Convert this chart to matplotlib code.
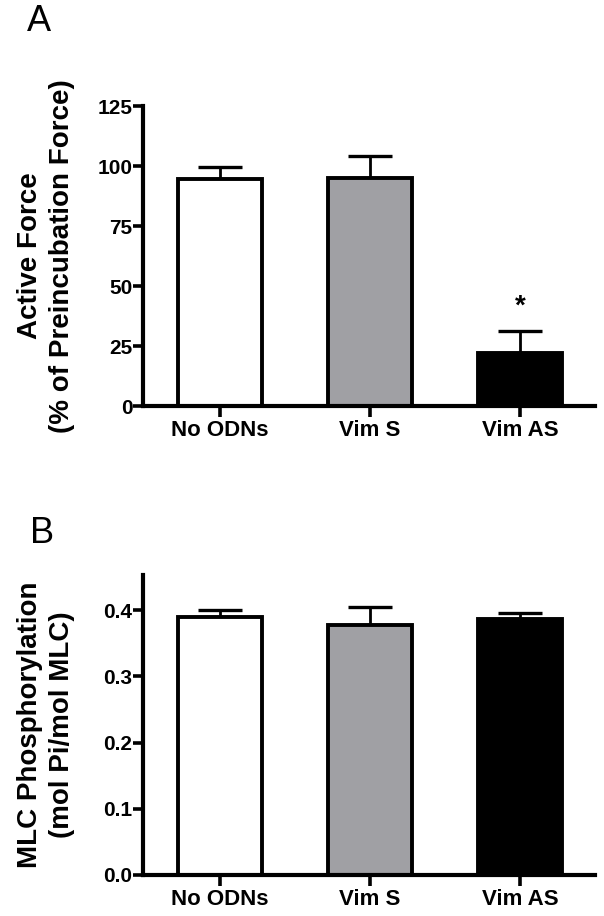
import matplotlib
matplotlib.use("Agg")
import matplotlib.pyplot as plt
import numpy as np

plt.rcParams['font.family'] = ['Liberation Sans', 'DejaVu Sans']

categories = ["No ODNs", "Vim S", "Vim AS"]
colors = ["#ffffff", "#a0a0a4", "#000000"]

force_mean = [94.7, 94.9, 22.1]
force_sem = [4.7, 9.3, 9.3]
force_yticks = [0, 25, 50, 75, 100, 125]
force_ylabel = "Active Force\n(% of Preincubation Force)"

mlc_mean = [0.390, 0.377, 0.386]
mlc_sem = [0.010, 0.027, 0.009]
mlc_yticks = [0.0, 0.1, 0.2, 0.3, 0.4]
mlc_ylabel = "MLC Phosphorylation\n(mol Pi/mol MLC)"

significant = [False, False, True]

W, H = 604, 916
fig = plt.figure(figsize=(W / 100, H / 100), dpi=100)


def make_axes(top_px, bottom_px):
    left_px, right_px = 143, 595
    return fig.add_axes([left_px / W, 1 - bottom_px / H,
                         (right_px - left_px) / W, (bottom_px - top_px) / H])


def draw_panel(ax, means, sems, yticks, ylim, ylabel, fmt, label_y_center):
    x = np.arange(len(categories))
    ax.bar(x, means, width=0.56, color=colors, edgecolor="black",
           linewidth=2.8, zorder=2)
    ax.errorbar(x, means, yerr=[np.zeros(len(sems)), sems], fmt="none",
                ecolor="black", elinewidth=2.0, capsize=15.5, capthick=2.4,
                zorder=1)
    ax.set_xlim(-0.513, 2.5)
    ax.set_ylim(*ylim)
    ax.set_yticks(yticks)
    ax.set_yticklabels([fmt(v) for v in yticks])
    ax.set_xticks(x)
    ax.set_xticklabels(categories)
    for s in ["top", "right"]:
        ax.spines[s].set_visible(False)
    for s in ["left", "bottom"]:
        ax.spines[s].set_linewidth(3.0)
    ax.tick_params(axis="y", length=7, width=2.6, pad=0.5, labelsize=15)
    ax.tick_params(axis="x", length=8, width=2.6, pad=2, labelsize=16)
    for lab in ax.get_xticklabels() + ax.get_yticklabels():
        lab.set_fontweight("bold")
    fig.text(46 / W, 1 - label_y_center / H, ylabel, rotation=90,
             ha="center", va="center", fontsize=20, fontweight="bold",
             multialignment="center", linespacing=1.3)


ax1 = make_axes(106, 406)
draw_panel(ax1, force_mean, force_sem, force_yticks, (0, 125), force_ylabel,
           lambda v: f"{v:d}", 256)
for i, sig in enumerate(significant):
    if sig:
        ax1.annotate("*", xy=(i, force_mean[i] + force_sem[i]),
                     xytext=(0, 12), textcoords="offset points",
                     ha="center", va="baseline", fontsize=20,
                     fontweight="bold")

ax2 = make_axes(575, 875)
draw_panel(ax2, mlc_mean, mlc_sem, mlc_yticks, (0, 0.453), mlc_ylabel,
           lambda v: f"{v:.1f}", 725)

fig.text(27 / W, 1 - 31 / H, "A", fontsize=26, ha="left", va="baseline")
fig.text(30 / W, 1 - 543 / H, "B", fontsize=26, ha="left", va="baseline")

fig.savefig("out.png", dpi=100)
